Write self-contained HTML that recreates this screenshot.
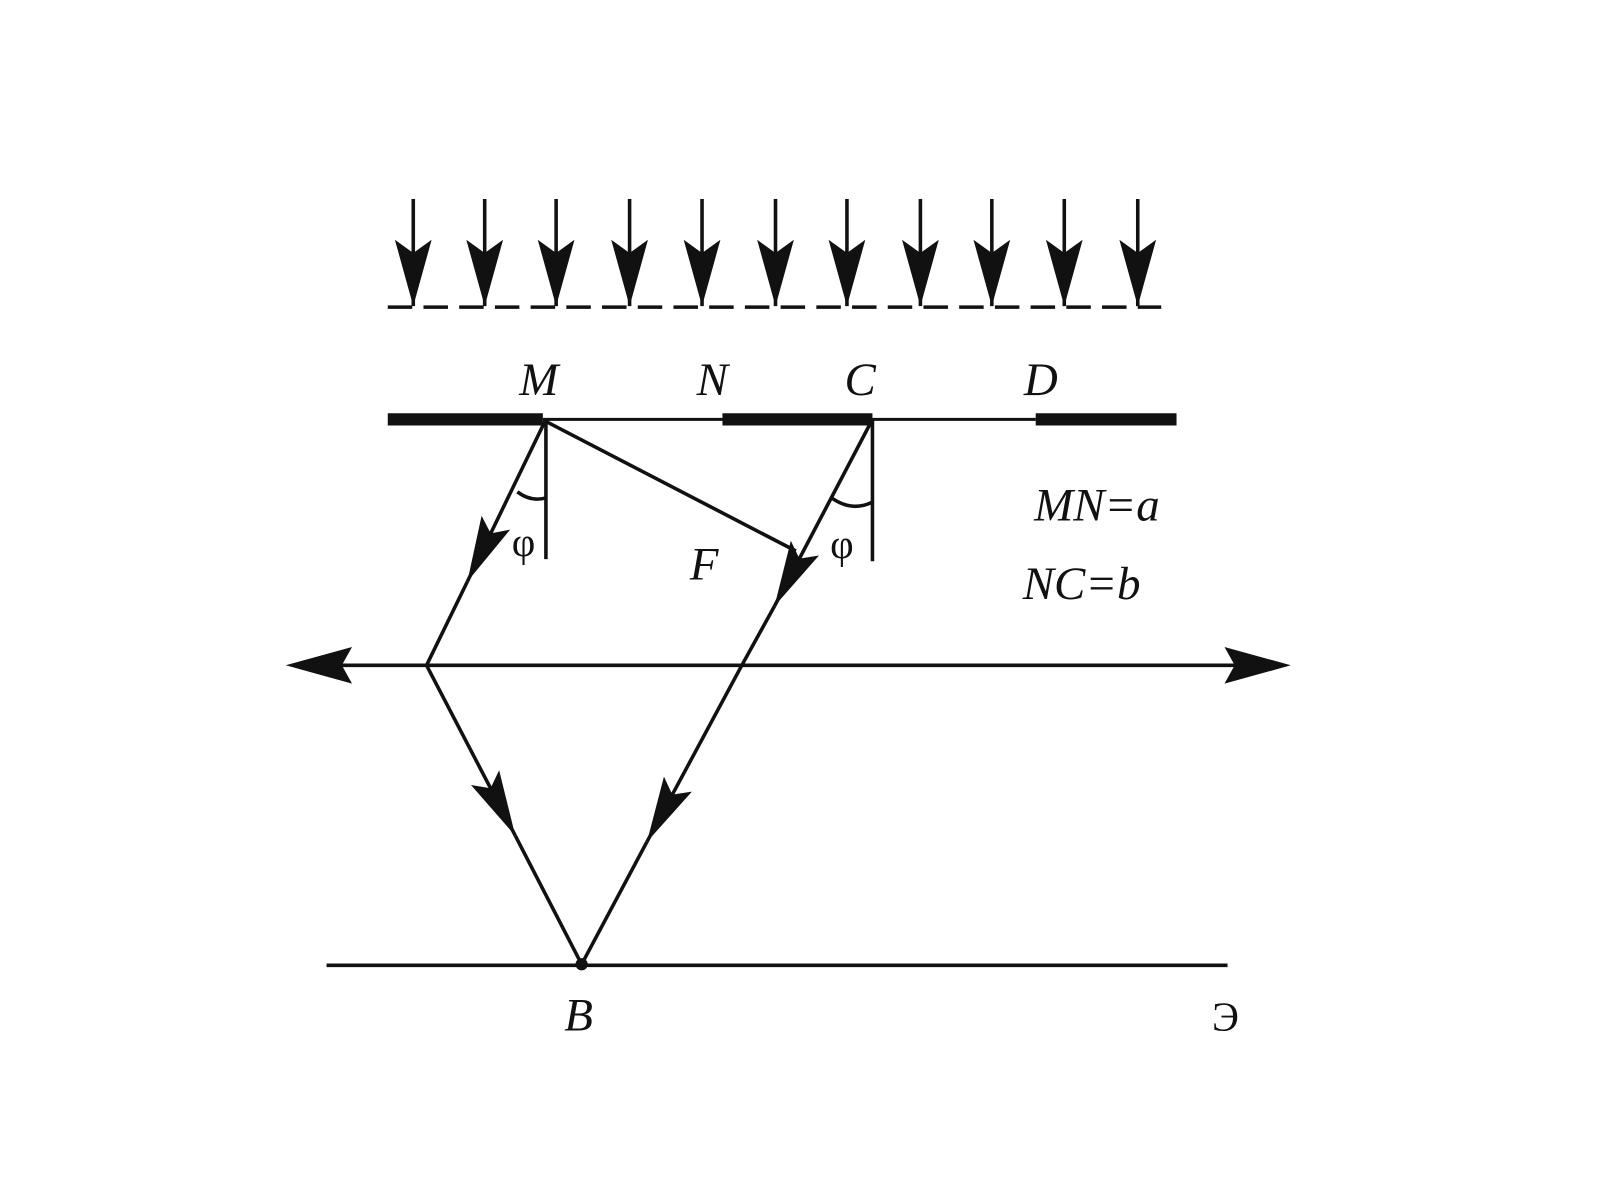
<!DOCTYPE html>
<html><head><meta charset="utf-8"><style>html,body{margin:0;padding:0;background:#fff}svg{display:block}</style></head>
<body>
<svg width="1600" height="1200" viewBox="0 0 1568 1176" xmlns="http://www.w3.org/2000/svg">
<defs>
<marker id="ah" markerUnits="userSpaceOnUse" markerWidth="70" markerHeight="40" refX="0" refY="0" viewBox="-70 -20 72 40" orient="auto">
<path d="M0,0 L-66,-16 L-54,0 L-66,16 Z" fill="#111"/>
</marker>
</defs>
<g stroke="#111" fill="none" stroke-width="3.5">
<path d="M405,195V300M475,195V300M545,195V300M617,195V300M688,195V300M760,195V300M830,195V300M902,195V300M972,195V300M1043,195V300M1115,195V300"/>
<line x1="380" y1="301" x2="1138" y2="301" stroke-dasharray="24 11"/>
<line x1="532" y1="411" x2="1015" y2="411" stroke-width="3"/>
<line x1="380" y1="411" x2="532" y2="411" stroke-width="12"/>
<line x1="708" y1="411" x2="855" y2="411" stroke-width="12"/>
<line x1="1015" y1="411" x2="1153" y2="411" stroke-width="12"/>
<line x1="535" y1="411" x2="535" y2="548"/>
<line x1="855" y1="411" x2="855" y2="550"/>
<line x1="535" y1="413" x2="780" y2="540"/>
<path d="M507,482 Q520,492 535,488"/>
<path d="M815,488 Q835,502 855,492"/>
<line x1="535" y1="411" x2="458" y2="570" marker-end="url(#ah)"/>
<line x1="458" y1="570" x2="418" y2="652"/>
<line x1="855" y1="411" x2="759" y2="594" marker-end="url(#ah)"/>
<line x1="759" y1="594" x2="727" y2="652"/>
<line x1="300" y1="652" x2="1250" y2="652"/>
<line x1="418" y1="652" x2="505" y2="819" marker-end="url(#ah)"/>
<line x1="505" y1="819" x2="570" y2="945"/>
<line x1="727" y1="652" x2="634" y2="825" marker-end="url(#ah)"/>
<line x1="634" y1="825" x2="570" y2="945"/>
<line x1="320" y1="946" x2="1203" y2="946"/>
</g>
<circle cx="570" cy="945" r="6" fill="#111"/>
<g fill="#111">
<path d="M280,652 L345,634 L335,652 L345,670Z M1265,652 L1200,634 L1210,652 L1200,670Z"/>
<path d="M387,235 L405,300 L423,235 L405,248Z M457,235 L475,300 L493,235 L475,248Z M527,235 L545,300 L563,235 L545,248Z M599,235 L617,300 L635,235 L617,248Z M670,235 L688,300 L706,235 L688,248Z M742,235 L760,300 L778,235 L760,248Z M812,235 L830,300 L848,235 L830,248Z M884,235 L902,300 L920,235 L902,248Z M954,235 L972,300 L990,235 L972,248Z M1025,235 L1043,300 L1061,235 L1043,248Z M1097,235 L1115,300 L1133,235 L1115,248Z"/>
</g>
<g font-family="'Liberation Serif', serif" font-style="italic" font-size="46" fill="#111" text-anchor="middle">
<text x="528" y="387">M</text>
<text x="698" y="387">N</text>
<text x="843" y="387">C</text>
<text x="1020" y="387">D</text>
<text x="690" y="568">F</text>
<text x="1075" y="510">MN=a</text>
<text x="1060" y="587">NC=b</text>
<text x="567" y="1010">B</text>
</g>
<g font-family="'Liberation Serif', serif" font-size="40" fill="#111" text-anchor="middle">
<text x="513" y="545">φ</text>
<text x="825" y="547">φ</text>
<text x="1201" y="1010">Э</text>
</g>
</svg>
</body></html>
